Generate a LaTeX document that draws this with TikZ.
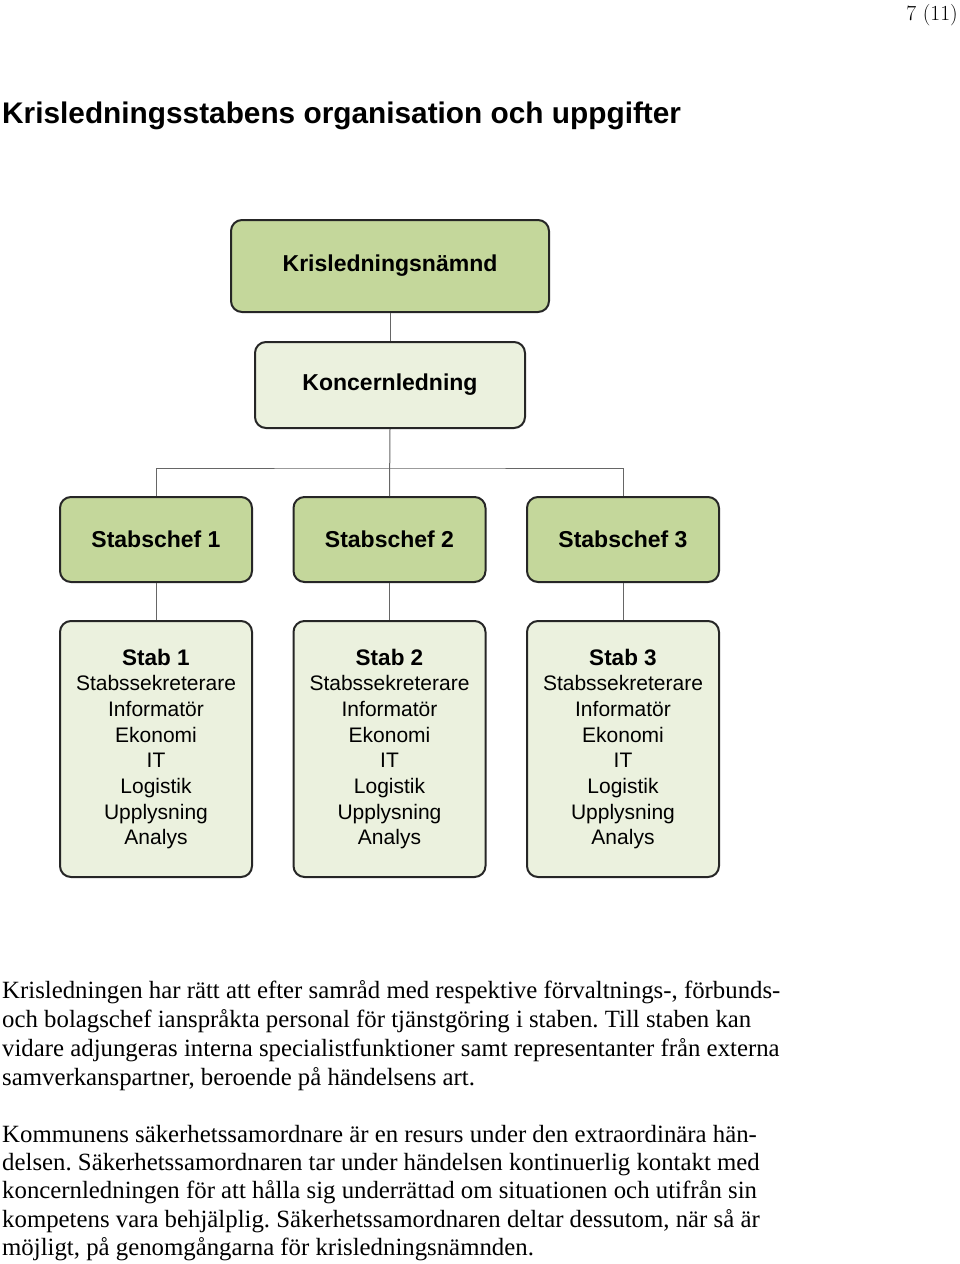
\documentclass[tikz,border=0pt]{standalone}
\usepackage{fontspec}
\newfontfamily\arialf{Liberation Sans}
\newfontfamily\bodyf{Liberation Serif}
\definecolor{cdark}{HTML}{C4D79B}
\definecolor{clight}{HTML}{EBF1DE}
\definecolor{cline}{HTML}{666666}
\frenchspacing
\begin{document}
\begin{tikzpicture}[x=1pt,y=-1pt,
  box/.style={draw=black!85, line width=2pt, rounded corners=11pt, inner sep=0pt, align=center},
  darkbox/.style={box, fill=cdark, font=\arialf\bfseries\fontsize{23}{26}\selectfont},
  lightbox/.style={box, fill=clight},
  chiefbox/.style={darkbox, minimum width=192pt, minimum height=85pt},
  stabbox/.style={lightbox, minimum width=192pt, minimum height=256pt, font=\arialf\fontsize{21}{25.7}\selectfont},
  conn/.style={draw=cline, line width=1pt},
  bodyline/.style={anchor=base west, inner sep=0pt, font=\bodyf\fontsize{24.8}{29}\selectfont}
]
\useasboundingbox (0,0) rectangle (960,1264);

\node[anchor=base east, inner sep=0pt, font=\fontsize{21.5}{24}\selectfont] (pg) at (958,20) {7 (11)};
\node[anchor=base west, inner sep=0pt, font=\arialf\bfseries\fontsize{29.8}{34}\selectfont] (title) at (2,123) {Krisledningsstabens organisation och uppgifter};

\node[darkbox, minimum width=318pt, minimum height=92pt] (kn) at (390,266) {Krisledningsnämnd};
\node[lightbox, minimum width=270pt, minimum height=86pt, font=\arialf\bfseries\fontsize{23}{26}\selectfont] (kl) at (390,385) {Koncernledning};

\node[chiefbox] (sc1) at (156,539.5) {Stabschef 1};
\node[chiefbox] (sc2) at (389.5,539.5) {Stabschef 2};
\node[chiefbox] (sc3) at (623,539.5) {Stabschef 3};

\foreach \i/\x in {1/156,2/389.5,3/623}{
  \node[stabbox] (st\i) at (\x,749) {{\bfseries\fontsize{22.5}{25.7}\selectfont Stab \i}\\Stabssekreterare\\Informatör\\Ekonomi\\IT\\Logistik\\Upplysning\\Analys};
}

\coordinate (bar) at (390,468);
\draw[conn] (kn.south) -- (kl.north);
\draw[conn] (kl.south) -- (sc2.north);
\draw[conn] (sc1.north) |- (bar) -| (sc3.north);
\foreach \i in {1,2,3}{\draw[conn] (sc\i.south) -- (st\i.north);}

\node[bodyline] (p1) at (2,998) {Krisledningen har rätt att efter samråd med respektive förvaltnings-, förbunds-};
\node[bodyline] (p2) at (2,1027) {och bolagschef ianspråkta personal för tjänstgöring i staben. Till staben kan};
\node[bodyline] (p3) at (2,1056) {vidare adjungeras interna specialistfunktioner samt representanter från externa};
\node[bodyline] (p4) at (2,1085) {samverkanspartner, beroende på händelsens art.};
\node[bodyline] (q1) at (2,1142) {Kommunens säkerhetssamordnare är en resurs under den extraordinära hän-};
\node[bodyline] (q2) at (2,1170) {delsen. Säkerhetssamordnaren tar under händelsen kontinuerlig kontakt med};
\node[bodyline] (q3) at (2,1198) {koncernledningen för att hålla sig underrättad om situationen och utifrån sin};
\node[bodyline] (q4) at (2,1227) {kompetens vara behjälplig. Säkerhetssamordnaren deltar dessutom, när så är};
\node[bodyline] (q5) at (2,1255) {möjligt, på genomgångarna för krisledningsnämnden.};
\end{tikzpicture}
\end{document}
